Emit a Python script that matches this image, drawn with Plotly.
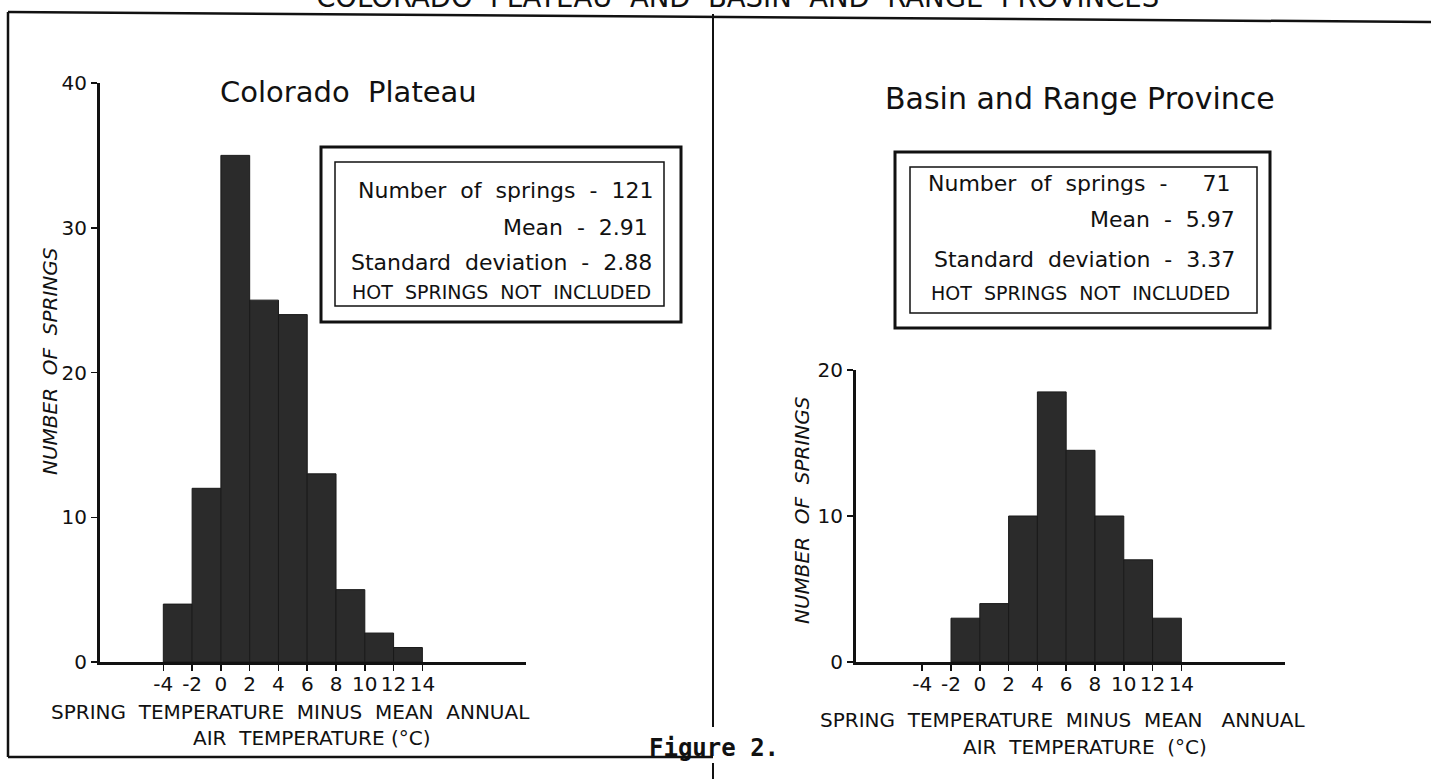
import plotly.graph_objects as go

# ---------------- data ----------------
bin_edges = [-4, -2, 0, 2, 4, 6, 8, 10, 12, 14]
colorado_counts = [4, 12, 35, 25, 24, 13, 5, 2, 1]
basin_bin_edges = [-2, 0, 2, 4, 6, 8, 10, 12, 14]
basin_counts = [3, 4, 10, 18.5, 14.5, 10, 7, 3]
x_tick_vals = [-4, -2, 0, 2, 4, 6, 8, 10, 12, 14]
x_tick_text = ["-4", "-2", "0", "2", "4", "6", "8", "10", "12", "14"]
left_y_ticks = [0, 10, 20, 30, 40]
right_y_ticks = [0, 10, 20]
colorado_stats = {"n": "121", "mean": "2.91", "sd": "2.88"}
basin_stats = {"n": "71", "mean": "5.97", "sd": "3.37"}
main_title = "COLORADO  PLATEAU  AND  BASIN  AND  RANGE  PROVINCES"

W, H = 1431, 779
FONT = "DejaVu Sans, Noto Sans, sans-serif"
MONO = "DejaVu Sans Mono, Liberation Mono, monospace"
INK = "#111111"
BAR = "#2b2b2b"


def px(x):
    return x / W


def py(y):
    return 1 - y / H


def centers(edges):
    return [(edges[i] + edges[i + 1]) / 2 for i in range(len(edges) - 1)]


def widths(edges):
    return [edges[i + 1] - edges[i] for i in range(len(edges) - 1)]


fig = go.Figure()
fig.add_trace(go.Bar(x=centers(bin_edges), y=colorado_counts, width=widths(bin_edges),
                     marker=dict(color=BAR, line=dict(color="#1a1a1a", width=1)),
                     xaxis="x", yaxis="y", showlegend=False, hoverinfo="skip"))
fig.add_trace(go.Bar(x=centers(basin_bin_edges), y=basin_counts, width=widths(basin_bin_edges),
                     marker=dict(color=BAR, line=dict(color="#1a1a1a", width=1)),
                     xaxis="x2", yaxis="y2", showlegend=False, hoverinfo="skip"))
# cropped overall title (only lower part visible at the top edge)
fig.add_trace(go.Scatter(x=[0.5155], y=[1.0], mode="text", text=[main_title],
                         textposition="middle center", cliponaxis=True,
                         textfont=dict(family=FONT, size=27.5, color=INK),
                         xaxis="x3", yaxis="y3", showlegend=False, hoverinfo="skip"))

xcommon = dict(tickvals=x_tick_vals, ticktext=x_tick_text,
               ticks="outside", ticklen=6, tickwidth=1.5, tickcolor=INK,
               showline=True, linecolor=INK, linewidth=3, showgrid=False, zeroline=False,
               ticklabelstandoff=-4,
               tickfont=dict(family=FONT, size=20, color=INK), fixedrange=True, automargin=False)
ycommon = dict(ticks="outside", ticklen=6, tickwidth=1.5, tickcolor=INK,
               showline=True, linecolor=INK, linewidth=3, showgrid=False, zeroline=False,
               tickfont=dict(family=FONT, size=20, color=INK), fixedrange=True, automargin=False)

fig.update_layout(
    width=W, height=H,
    margin=dict(l=0, r=0, t=0, b=0, pad=0, autoexpand=False),
    paper_bgcolor="white", plot_bgcolor="white",
    bargap=0,
    xaxis=dict(domain=[px(100), px(526)], anchor="y", range=[-8.4, 21.2], **xcommon),
    yaxis=dict(domain=[py(662), py(83)], anchor="x", range=[0, 40], tickvals=left_y_ticks, **ycommon),
    xaxis2=dict(domain=[px(856), px(1285)], anchor="y2", range=[-8.6, 21.2], **xcommon),
    yaxis2=dict(domain=[py(662), py(370)], anchor="x2", range=[0, 20], tickvals=right_y_ticks, **ycommon),
    xaxis3=dict(domain=[0, 1], anchor="y3", range=[0, 1], visible=False, fixedrange=True),
    yaxis3=dict(domain=[py(10), 1], anchor="x3", range=[0, 1], visible=False, fixedrange=True),
)

ann = []


def text(x, y, s, size, xanchor="center", yanchor="middle", angle=0, style="normal",
         weight="normal", family=FONT):
    ann.append(dict(x=px(x), y=py(y), xref="paper", yref="paper", text=s, showarrow=False,
                    xanchor=xanchor, yanchor=yanchor, textangle=angle,
                    font=dict(family=family, size=size, color=INK, style=style, weight=weight)))


# panel titles
text(348, 92, "Colorado  Plateau", 29)
text(1080, 98, "Basin and Range Province", 30)

# y-axis titles
text(50, 361, "NUMBER  OF  SPRINGS", 20, angle=-90, style="italic")
text(802, 510, "NUMBER  OF  SPRINGS", 20, angle=-90, style="italic")

# x-axis titles
text(290, 712, "SPRING  TEMPERATURE  MINUS  MEAN  ANNUAL", 20)
text(312, 738, "AIR  TEMPERATURE (°C)", 20)
text(1063, 720, "SPRING  TEMPERATURE  MINUS  MEAN   ANNUAL", 20)
text(1085, 747, "AIR  TEMPERATURE  (°C)", 20)

# stats boxes
text(655, 190, "Number  of  springs  -  " + colorado_stats["n"], 22, xanchor="right")
text(650, 227, "Mean  -  " + colorado_stats["mean"], 22, xanchor="right")
text(654, 262, "Standard  deviation  -  " + colorado_stats["sd"], 22, xanchor="right")
text(501, 292, "HOT  SPRINGS  NOT  INCLUDED", 19)

text(1232, 183, "Number  of  springs  -     " + basin_stats["n"], 22, xanchor="right")
text(1237, 220, "Mean  -  " + basin_stats["mean"], 22, xanchor="right")
text(1237, 259, "Standard  deviation  -  " + basin_stats["sd"], 22, xanchor="right")
text(1080, 293, "HOT  SPRINGS  NOT  INCLUDED", 19)

# figure caption
text(714, 748, "Figure 2.", 24, weight="bold", family=MONO)

fig.update_layout(annotations=ann)

shapes = []


def line(x0, y0, x1, y1, w=2.5):
    shapes.append(dict(type="line", xref="paper", yref="paper", x0=px(x0), y0=py(y0),
                       x1=px(x1), y1=py(y1), line=dict(color=INK, width=w)))


def rect(x0, y0, x1, y1, w):
    shapes.append(dict(type="rect", xref="paper", yref="paper", x0=px(x0), y0=py(y0),
                       x1=px(x1), y1=py(y1), line=dict(color=INK, width=w)))


# frame
line(8, 12, 1431, 22, 2.5)
line(8, 12, 8, 757, 2.5)
line(8, 757, 713, 757, 2.5)
line(713, 14, 713, 727, 2)
line(713, 763, 713, 779, 2)

# stats boxes (double frame)
rect(321, 147, 681, 322, 3)
rect(335, 162, 664, 306, 1.5)
rect(895, 152, 1270, 328, 3)
rect(910, 167, 1257, 313, 1.5)

fig.update_layout(shapes=shapes)

fig.write_html("out.html", config={"displayModeBar": False, "staticPlot": True},
               post_script="document.body.style.margin='0';document.body.style.overflow='hidden';")
